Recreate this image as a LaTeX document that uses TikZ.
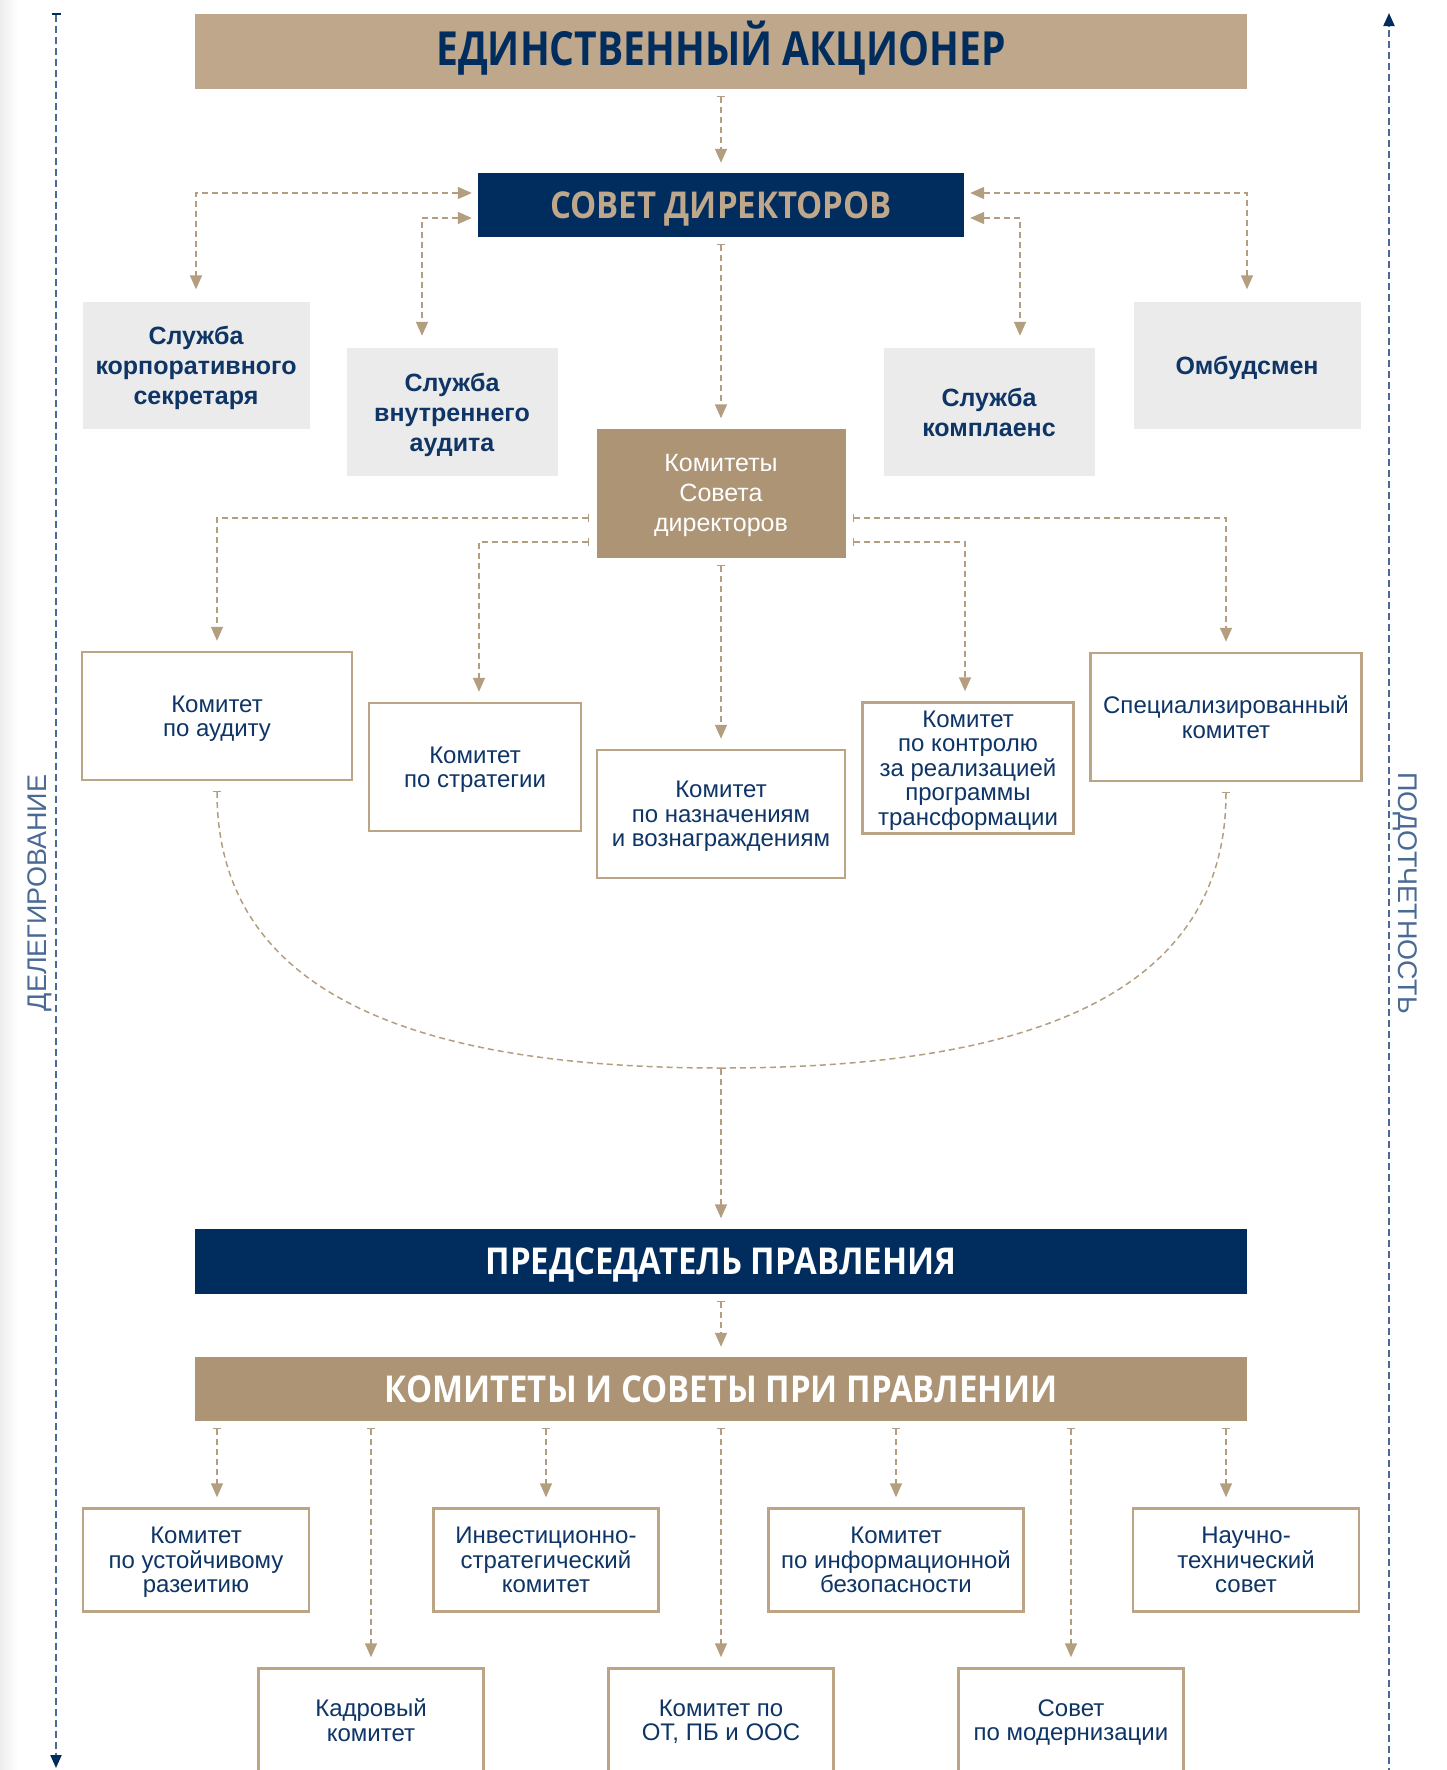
\documentclass[tikz,border=0pt]{standalone}
\usepackage{fontspec}
\setmainfont{Liberation Sans}
\newfontfamily\headfont[FakeStretch=0.89]{Open Sans}
\newfontfamily\titlefont[FakeStretch=0.83]{Open Sans}
\usetikzlibrary{positioning,arrows.meta}

\definecolor{navy}{HTML}{002D5E}
\definecolor{tanlight}{HTML}{BEA78A}
\definecolor{tandark}{HTML}{AD9474}
\definecolor{linetan}{HTML}{B49E80}
\definecolor{boxtan}{HTML}{BBA585}
\definecolor{boxgray}{HTML}{EBEBEB}
\definecolor{textnavy}{HTML}{0E3566}
\definecolor{sideblue}{HTML}{4A6A96}

\begin{document}
\begin{tikzpicture}[x=1pt,y=-1pt,on grid,
  head/.style={inner sep=0pt, minimum width=1052pt, text height=26.4pt, text depth=0pt, font=\headfont\bfseries\fontsize{37}{40}\selectfont},
  graybox/.style={fill=boxgray, inner sep=0pt, align=center, text=textnavy, text depth=-2pt, font=\bfseries\fontsize{25}{30}\selectfont, minimum width=211pt, minimum height=128pt},
  komsd/.style={fill=tandark, inner sep=0pt, align=center, text=white, text depth=-2pt, font=\fontsize{25}{30}\selectfont, minimum width=249pt, minimum height=129pt},
  combox/.style={draw=boxtan, line width=2.5pt, fill=white, align=center, text=textnavy, inner sep=0pt, text depth=-2pt, font=\fontsize{24}{24.5}\selectfont, minimum height=128pt},
  link/.style={color=linetan, line width=1.5pt, dash pattern=on 6pt off 4pt, {Bar[width=8pt,line width=1.2pt]}-{Triangle[width=12pt,length=14pt]}, shorten <=7pt, shorten >=10pt},
  twoway/.style={link, {Triangle[width=12pt,length=14pt]}-{Triangle[width=12pt,length=14pt]}, shorten <=6pt, shorten >=12pt},
  curve/.style={link, {Bar[width=8pt,line width=1.2pt]}-, shorten <=10pt, shorten >=0pt},
  side/.style={draw=sideblue, line width=2pt, dash pattern=on 7pt off 4pt},
  sidelabel/.style={text=sideblue, font=\fontsize{27}{27}\selectfont, inner sep=0pt}]
  \useasboundingbox (0,0) rectangle (1446,1770);
  \shade[left color=black!7, right color=white] (0,0) rectangle (18,1770);

  \node[head, fill=tanlight, text=navy, minimum height=75pt, text height=33.6pt, text depth=4.6pt, font=\titlefont\bfseries\fontsize{47}{50}\selectfont] (aktsioner) at (721,51) {ЕДИНСТВЕННЫЙ АКЦИОНЕР};
  \node[head, fill=navy, text=tanlight, minimum width=486pt, minimum height=64pt] (sovet) [below=154pt of aktsioner] {СОВЕТ ДИРЕКТОРОВ};

  \node[graybox, minimum width=227pt, minimum height=127pt] (sekr) [below left=160pt and 525pt of sovet] {Служба\\корпоративного\\секретаря};
  \node[graybox] (vnaudit) [below left=207pt and 269pt of sovet] {Служба\\внутреннего\\аудита};
  \node[graybox] (compl) [below right=207pt and 268pt of sovet] {Служба\\комплаенс};
  \node[graybox, minimum width=227pt, minimum height=127pt] (omb) [below right=160pt and 526pt of sovet] {Омбудсмен};

  \node[komsd] (komsd) [below=288pt of sovet] {Комитеты\\Совета\\директоров};

  \node[combox, minimum width=270pt] (kaudit) [below left=223pt and 504pt of komsd] {Комитет\\по аудиту};
  \node[combox, minimum width=212pt] (kstrat) [below left=274pt and 246pt of komsd] {Комитет\\по стратегии};
  \node[combox, minimum width=248pt] (knazn) [below=321pt of komsd] {Комитет\\по назначениям\\и вознаграждениям};
  \node[combox, minimum width=211pt, minimum height=131pt] (ktrans) [below right=275pt and 247pt of komsd] {Комитет\\по контролю\\за реализацией\\программы\\трансформации};
  \node[combox, minimum width=271pt] (kspec) [below right=224pt and 505pt of komsd] {Специализированный\\комитет};

  \coordinate[below=254pt of knazn] (merge);
  \node[head, fill=navy, text=white, minimum height=65pt] (pred) [below=768pt of komsd] {ПРЕДСЕДАТЕЛЬ ПРАВЛЕНИЯ};
  \node[head, fill=tandark, text=white, minimum height=64pt] (kompr) [below=128pt of pred] {КОМИТЕТЫ И СОВЕТЫ ПРИ ПРАВЛЕНИИ};

  \node[combox, minimum width=226pt, minimum height=103pt] (kustoich) [below left=171pt and 525pt of kompr] {Комитет\\по устойчивому\\разеитию};
  \node[combox, minimum width=225pt, minimum height=103pt] (kinvest) [below left=171pt and 175pt of kompr] {Инвестиционно-\\стратегический\\комитет};
  \node[combox, minimum width=255pt, minimum height=103pt] (kinfo) [below right=171pt and 175pt of kompr] {Комитет\\по информационной\\безопасности};
  \node[combox, minimum width=226pt, minimum height=103pt] (knauch) [below right=171pt and 525pt of kompr] {Научно-\\технический\\совет};
  \node[combox, minimum width=225pt, minimum height=103pt] (kkadr) [below left=331pt and 350pt of kompr] {Кадровый\\комитет};
  \node[combox, minimum width=225pt, minimum height=103pt] (kot) [below=331pt of kompr] {Комитет по\\ОТ, ПБ и ООС};
  \node[combox, minimum width=225pt, minimum height=103pt] (kmodern) [below right=331pt and 350pt of kompr] {Совет\\по модернизации};

  \path[link] (aktsioner) edge (sovet)
              (sovet) edge (komsd)
              (komsd) edge (knazn)
              (pred) edge (kompr);
  \draw[twoway] ([yshift=12pt]sovet.west) -| (sekr);
  \draw[twoway] ([yshift=-13pt]sovet.west) -| ([xshift=-30pt]vnaudit.north);
  \draw[twoway] ([yshift=12pt]sovet.east) -| (omb);
  \draw[twoway] ([yshift=-13pt]sovet.east) -| ([xshift=31pt]compl.north);
  \draw[link] ([yshift=-25pt]komsd.west) -| (kaudit);
  \draw[link] ([yshift=-49pt]komsd.west) -| ([xshift=4pt]kstrat.north);
  \draw[link] ([yshift=-25pt]komsd.east) -| (kspec);
  \draw[link] ([yshift=-49pt]komsd.east) -| ([xshift=-3pt]ktrans.north);

  \draw[curve] (kaudit.south) .. controls +(0,220) and +(-291,0) .. (merge);
  \draw[curve] (kspec.south) .. controls +(0,220) and +(292,0) .. (merge);
  \draw[link, shorten <=0pt] (merge) -- (pred);

  \draw[link] ([xshift=21pt]kustoich.north |- kompr.south) -- ([xshift=21pt]kustoich.north);
  \draw[link] ([xshift=-20pt]knauch.north |- kompr.south) -- ([xshift=-20pt]knauch.north);
  \foreach \k in {kkadr,kinvest,kot,kinfo,kmodern}
    \draw[link] (kompr.south -| \k) -- (\k);

  \coordinate (dtop) at (56,13);
  \coordinate (dbot) at (56,1768);
  \coordinate (ptop) at (1389,13);
  \coordinate (pbot) at (1389,1775);
  \draw[side, {Bar[width=9pt,color=navy]}-{Triangle[width=11pt,length=13pt,color=navy]}] (dtop) -- (dbot);
  \draw[side, -{Triangle[width=11pt,length=13pt,color=navy]}] (pbot) -- (ptop);
  \node[sidelabel, rotate=90] (deleg) at (40,893) {ДЕЛЕГИРОВАНИЕ};
  \node[sidelabel, rotate=-90] (podot) at (1405,893) {ПОДОТЧЕТНОСТЬ};
\end{tikzpicture}
\end{document}
